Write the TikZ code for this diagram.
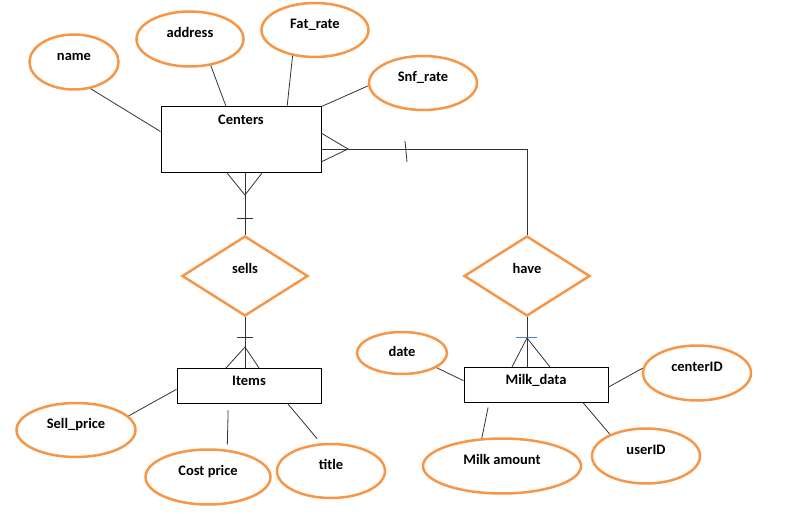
\documentclass[tikz,border=0pt]{standalone}
\usepackage{fontspec}
\setmainfont{Carlito}
\usepackage{xcolor}
\usepackage{tikz}
\usetikzlibrary{shapes.geometric}

\definecolor{attrorange}{HTML}{F79646}
\definecolor{tickblue}{HTML}{4F81BD}

\begin{document}
\begin{tikzpicture}[x=1pt, y=-1pt,
		every node/.style={font=\fontsize{14.5pt}{17pt}\selectfont\bfseries},
		entity/.style={draw, line width=1pt, rectangle, minimum width=144pt, minimum height=35pt, text height=8pt, text depth=8pt},
		attr/.style={draw=attrorange, line width=2.5pt, ellipse, inner sep=0pt, text height=8pt},
		rel/.style={draw=attrorange, line width=2.5pt, diamond, inner sep=0pt, minimum width=126pt, minimum height=80pt, text height=8pt, text depth=13pt},
		link/.style={draw=black!80, line width=0.8pt},
		foot/.style={draw=black!80, line width=0.8pt}]
			\useasboundingbox (0,0) rectangle (788,516);

			% Make entities
			\node[entity, minimum width=160pt, minimum height=66pt,
				label={[anchor=north, yshift=-5pt]north:Centers}] (centers) at (241,140) {};
			\node[entity] (items) at (249,385.5) {Items};
			\node[entity] (milk) at (536,384.5) {Milk\_data};

			% Make relations
			\node[rel] (sells) at (245,276) {sells};
			\node[rel] (have) at (527,276) {have};

			% Make attributes
			\foreach \nm/\x/\y/\w/\h/\d/\txt in {
				name/74/62/89/55/11/name,
				address/190/39/107/55/11/address,
				fatrate/315/30/107/54/11/Fat\_rate,
				snfrate/423/83/108/54/11/Snf\_rate,
				sellprice/76/430/119/54/11/Sell\_price,
				costprice/208/477/125/55/11/Cost price,
				title/331/471/108/54/11/title,
				date/402/353/90/42/1/date,
				centerid/697/373/108/55/11/centerID,
				milkamount/502/466/158/55/11/Milk amount,
				userid/646/456/108/55/11/userID} {
				\node[attr, minimum width=\w pt, minimum height=\h pt, text depth=\d pt] (\nm) at (\x,\y) {\txt};
			}

			% Make attribute links
			\foreach \a/\b in {name.-58/centers.174, address.-52/centers.114,
				fatrate.-131/centers.36, snfrate.-177/centers.north east,
				sellprice.15/items.183, date.-23/milk.177,
				centerid.175/milk.-2, userid.149/milk.-21} {
				\draw[link] (\a) -- (\b);
			}
			\draw[link, shorten <=7pt, shorten >=5pt] (items.-139) -- (costprice.55);
			\draw[link, shorten >=6pt] (items.-25) -- (title.110);
			\draw[link, shorten <=5pt] (milk.-159) -- (milkamount.126);

			% Make relation links
			\draw[link] (sells.north) -- (sells.north |- centers.south);
			\draw[link] (sells.south) -- (sells.south |- items.north);
			\draw[link] (have.north) |- ([yshift=-9pt]centers.east);
			\draw[link] (have.south) -- (have.south |- milk.north);

			% Crow's feet and ticks
			\draw[foot] (321,133) -- (348,149) -- (321,162);
			\draw[foot] (405,141) -- (407,162);
			\draw[foot] (227,173) -- (245,195) -- (262,173);
			\draw[foot] (237,218) -- (253,218);
			\draw[foot] (237,337) -- (253,337);
			\draw[foot] (226,368) -- (245,347) -- (259,368);
			\draw[foot, draw=tickblue] (516,337) -- (537,337);
			\draw[foot] (512,367) -- (527,338) -- (550,367);
		\end{tikzpicture}
\end{document}
